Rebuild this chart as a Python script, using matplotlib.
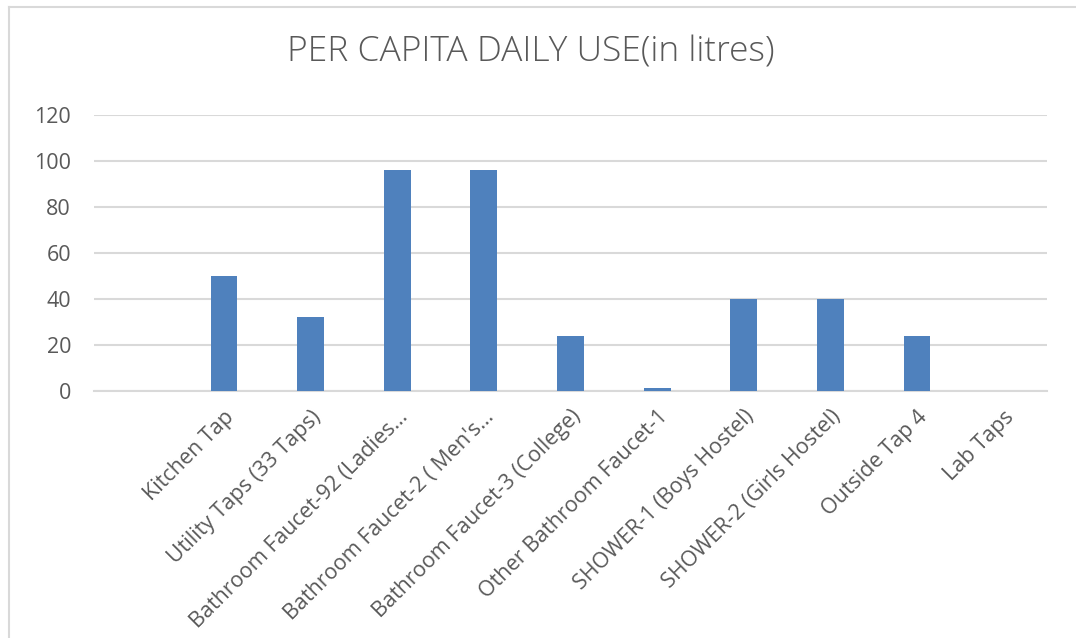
import matplotlib.pyplot as plt
from matplotlib.lines import Line2D

# per capita daily use of water at each location (litres)
locations = ['', 'Kitchen Tap', 'Utility Taps (33 Taps)', 'Bathroom Faucet-92 (Ladies…',
             "Bathroom Faucet-2 ( Men's…", 'Bathroom Faucet-3 (College)',
             'Other Bathroom Faucet-1', 'SHOWER-1 (Boys Hostel)',
             'SHOWER-2 (Girls Hostel)', 'Outside Tap 4', 'Lab Taps']
daily_use = [0, 50, 32, 96, 96, 24, 1.5, 40, 40, 24, 0]
y_ticks = [0, 20, 40, 60, 80, 100, 120]

plt.rcParams['font.family'] = ['Open Sans', 'DejaVu Sans']
text_color = '#595959'
grid_color = '#d9d9d9'

fig = plt.figure(figsize=(10.76, 6.38), dpi=100)
W, H = 1076, 638
ax = fig.add_axes([94 / W, 1 - 391 / H, (1047 - 94) / W, (391 - 115) / H])

x = list(range(len(locations)))
ax.bar(x, daily_use, width=0.31, color='#4f81bd', zorder=3)

ax.set_xlim(-0.5, len(locations) - 0.5)
ax.set_ylim(0, 120)
ax.set_yticks(y_ticks)
ax.set_yticklabels([str(v) for v in y_ticks], fontsize=15.5, color=text_color)
ax.set_xticks(x)
ax.set_xticklabels(locations, rotation=45, ha='right', rotation_mode='anchor',
                   fontsize=15.5, color=text_color)
ax.tick_params(axis='both', length=0)
ax.tick_params(axis='y', pad=16.5)
ax.tick_params(axis='x', pad=11)

ax.grid(axis='y', color=grid_color, linewidth=1.5, zorder=0)
for side in ['top', 'right', 'left']:
    ax.spines[side].set_visible(False)
ax.spines['bottom'].set_color(grid_color)
ax.spines['bottom'].set_linewidth(1.5)

fig.text(531 / W, 1 - 52 / H, 'PER CAPITA DAILY USE(in litres)', ha='center', va='center',
         fontsize=25.5, color=text_color, family=['Open Sans', 'DejaVu Sans'], fontweight='light')

# chart frame edges
fig.add_artist(Line2D([8.5 / W, 8.5 / W], [0, 1 - 7 / H], transform=fig.transFigure,
                      color=grid_color, linewidth=1.5))
fig.add_artist(Line2D([8.5 / W, 1], [1 - 7 / H, 1 - 7 / H], transform=fig.transFigure,
                      color=grid_color, linewidth=1.5))

fig.savefig('out.png', dpi=100)
